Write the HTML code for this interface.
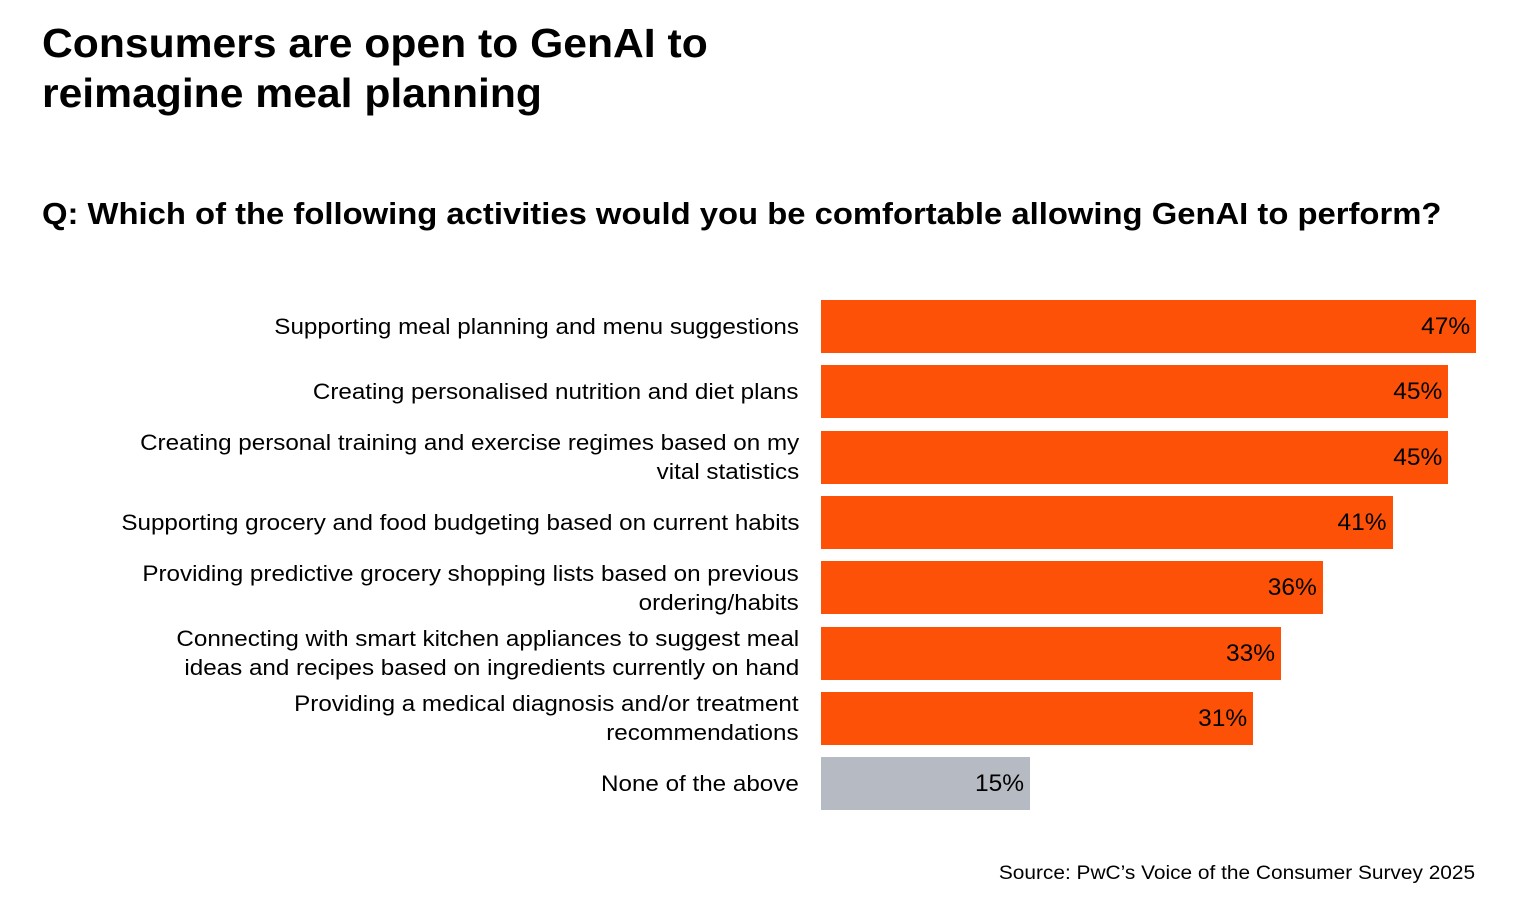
<!DOCTYPE html>
<html><head><meta charset="utf-8"><style>
body{margin:0;width:1536px;height:908px;background:#fff;font-family:"Liberation Sans",sans-serif;position:relative;overflow:hidden;color:#000}
.t{position:absolute;left:42px;top:18px;font-size:41px;font-weight:bold;line-height:50px;transform:scaleX(1.04);transform-origin:left top;white-space:nowrap}
.q{position:absolute;left:42px;top:196px;font-size:31px;font-weight:bold;transform:scaleX(1.058);transform-origin:left top;white-space:nowrap}
.src{position:absolute;right:61px;top:862px;font-size:19.5px;transform:scaleX(1.07);transform-origin:right top;white-space:nowrap}
.lab{position:absolute;right:737px;text-align:right;font-size:22px;line-height:29px;display:flex;align-items:center;justify-content:flex-end;height:53px;transform:scaleX(1.1);transform-origin:right center;white-space:nowrap}
.bar{position:absolute;height:53px}
.val{position:absolute;font-size:24.5px;line-height:53px;text-align:right}
</style></head><body>
<div class="t">Consumers are open to GenAI to<br>reimagine meal planning</div>
<div class="q">Q: Which of the following activities would you be comfortable allowing GenAI to perform?</div>
<div id="chart"></div>
<div class="src">Source: PwC’s Voice of the Consumer Survey 2025</div>
<script>
const categories=["Supporting meal planning and menu suggestions","Creating personalised nutrition and diet plans","Creating personal training and exercise regimes based on my<br>vital statistics","Supporting grocery and food budgeting based on current habits","Providing predictive grocery shopping lists based on previous<br>ordering/habits","Connecting with smart kitchen appliances to suggest meal<br>ideas and recipes based on ingredients currently on hand","Providing a medical diagnosis and/or treatment<br>recommendations","None of the above"];
const values=[47,45,45,41,36,33,31,15];
const x0=821, pxPer=13.94, y0=300, step=65.3;
const xs=v=>v*pxPer, ys=i=>y0+i*step;
const c=document.getElementById('chart');
values.forEach((v,i)=>{
  const l=document.createElement('div');l.className='lab';l.style.top=ys(i)+'px';l.innerHTML='<span>'+categories[i]+'</span>';
  
  
  c.appendChild(l);
  const b=document.createElement('div');b.className='bar';b.style.left=x0+'px';b.style.top=ys(i)+'px';b.style.width=xs(v)+'px';
  b.style.background=i===values.length-1?'#B6BAC2':'#FD5108';
  
  
  c.appendChild(b);
  const t=document.createElement('div');t.className='val';t.style.top=ys(i)+'px';t.style.left=(x0+xs(v)-6-80)+'px';t.style.width='80px';t.textContent=v+'%';
  
  
  c.appendChild(t);
});
</script>
</body></html>
